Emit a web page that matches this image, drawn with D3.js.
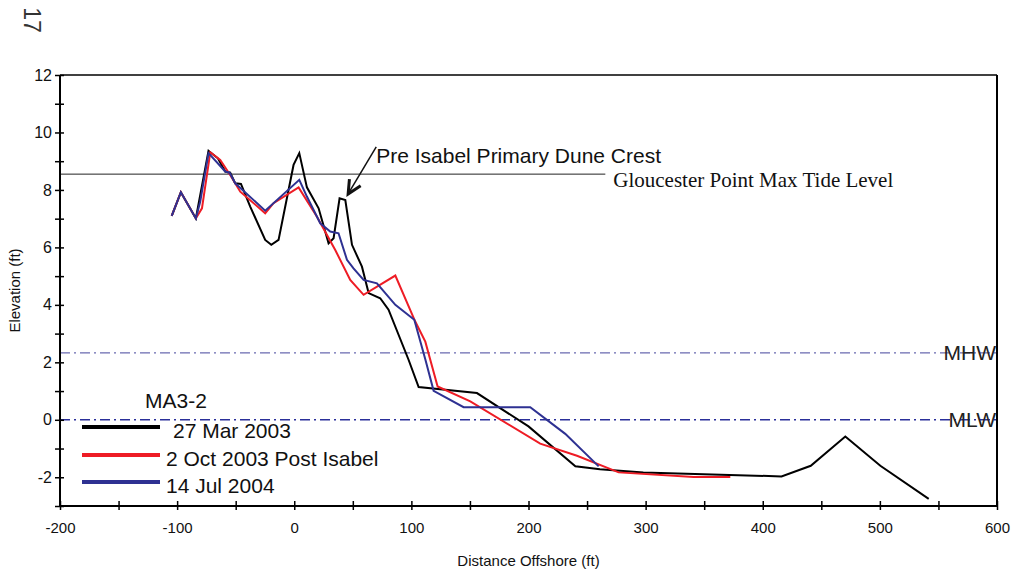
<!DOCTYPE html>
<html><head><meta charset="utf-8">
<script src="https://cdn.jsdelivr.net/npm/d3@7/dist/d3.min.js"></script>
<style>body{margin:0;background:#fff}svg{display:block}</style>
</head><body>
<script>
const seriesNames = ["27 Mar 2003", "2 Oct 2003 Post Isabel", "14 Jul 2004"];
const seriesColors = ["#000000", "#ee1c25", "#2e3192"];
const mar2003X = [-104.6,-96.8,-84,-73.2,-65.2,-58.9,-54.7,-50.4,-45.5,-37.6,-24.8,-19.6,-13.4,-0.6,4.3,10.8,20.8,29.3,33.6,38.7,43.6,49.3,57.8,63.5,73.4,80.5,97.6,106.2,156,200,240,261,298,416,441,470.5,500.4,541.7];
const mar2003Y = [7.1,7.92,7.01,9.36,9.1,8.64,8.6,8.23,8.21,7.42,6.26,6.09,6.26,8.87,9.28,8.09,7.36,6.14,6.32,7.71,7.65,6.09,5.33,4.41,4.23,3.83,2.09,1.14,0.93,-0.23,-1.62,-1.72,-1.83,-1.97,-1.6,-0.58,-1.6,-2.75];
const oct2003X = [-104.6,-96.8,-84,-78.8,-71.7,-63.2,-54.7,-46.1,-24.8,-17.7,3.7,19.4,35,47.8,59.2,86.3,103.3,111.9,122.4,150.3,210,241.4,277,341,372.3];
const oct2003Y = [7.1,7.92,7.01,7.36,9.31,9.04,8.52,7.94,7.19,7.54,8.09,7.07,5.91,4.87,4.35,5.02,3.42,2.72,1.16,0.64,-0.83,-1.25,-1.83,-1.99,-1.99];
const jul2004X = [-104.6,-96.8,-84,-80.3,-73.2,-58.9,-55.2,-50.4,-24.8,4.3,10.8,22.2,30.7,37.8,45,50.6,59.2,70.6,86.3,102.5,112,119,144.6,201.5,231.4,259.9];
const jul2004Y = [7.1,7.92,7.01,7.59,9.28,8.64,8.6,8.23,7.28,8.35,7.77,6.84,6.55,6.49,5.57,5.27,4.87,4.75,4.0,3.48,2.09,1.01,0.44,0.44,-0.49,-1.62];
const xTickLabels = [-200,-100,0,100,200,300,400,500,600];
const yTickLabels = [-2,0,2,4,6,8,10,12];
const maxTide = 8.55, mhw = 2.33, mlw = 0;
const tideLabel = "Gloucester Point Max Tide Level";
const duneLabel = "Pre Isabel Primary Dune Crest";
const duneArrowTip = [46, 7.86], duneTextAt = [70, 9.05];
const stationName = "MA3-2";

const W = 1014, H = 573;
const svg = d3.select("body").append("svg").attr("width", W).attr("height", H);
const x = d3.scaleLinear().domain([-200, 600]).range([60, 997]);
const y = d3.scaleLinear().domain([-3, 12]).range([506, 75]);
const sans = "'Liberation Sans', Arial, sans-serif";

// frame
svg.append("line").attr("x1", x(-200)).attr("x2", x(600)).attr("y1", y(12)).attr("y2", y(12)).attr("stroke", "#000").attr("stroke-width", 1.5);
svg.append("line").attr("x1", x(600)).attr("x2", x(600)).attr("y1", y(12)).attr("y2", y(-3)).attr("stroke", "#000").attr("stroke-width", 2);

// reference lines
svg.append("line").attr("x1", x(-200)).attr("x2", x(265.6)).attr("y1", y(maxTide)).attr("y2", y(maxTide)).attr("stroke", "#222").attr("stroke-width", 1);
svg.append("line").attr("x1", x(-200)).attr("x2", x(600)).attr("y1", y(mhw)).attr("y2", y(mhw)).attr("stroke", "#6a6ab0").attr("stroke-width", 1.2).attr("stroke-dasharray", "10,4,2,4");
svg.append("line").attr("x1", x(-200)).attr("x2", x(600)).attr("y1", y(mlw)).attr("y2", y(mlw)).attr("stroke", "#2a2f9a").attr("stroke-width", 1.4).attr("stroke-dasharray", "10,4,2,4");
svg.append("text").attr("x", x(600) - 1).attr("y", y(mhw)).attr("dy", "0.36em").attr("text-anchor", "end").attr("font-family", sans).attr("font-size", 21).attr("fill", "#222").text("MHW");
svg.append("text").attr("x", x(600) - 1).attr("y", y(mlw)).attr("dy", "0.36em").attr("text-anchor", "end").attr("font-family", sans).attr("font-size", 21).attr("fill", "#222").text("MLW");
svg.append("text").attr("x", x(272.4)).attr("y", y(maxTide) + 13).attr("font-family", "'Liberation Serif', 'Times New Roman', serif").attr("font-size", 21).attr("fill", "#111").text(tideLabel);

// axes
const yAxis = d3.axisLeft(y).tickValues(d3.range(-3, 13, 1)).tickSize(5).tickFormat(d => yTickLabels.includes(d) ? d : "");
const gy = svg.append("g").attr("transform", `translate(${x(-200)},0)`).call(yAxis);
gy.select(".domain").attr("stroke-width", 2).attr("d", `M0,${y(-3)}V${y(12)}`);
gy.selectAll(".tick line").attr("x1", 4).attr("x2", -5).attr("stroke-width", 1.5);
gy.selectAll(".tick text").attr("x", -8).attr("font-family", sans).attr("font-size", 16).attr("fill", "#111");
const xAxis = d3.axisBottom(x).tickValues(d3.range(-200, 601, 50)).tickSize(5).tickFormat(d => xTickLabels.includes(d) ? d : "");
const gx = svg.append("g").attr("transform", `translate(0,${y(-3)})`).call(xAxis);
gx.select(".domain").attr("stroke-width", 2).attr("d", `M${x(-200)},0H${x(600)}`);
gx.selectAll(".tick line").attr("y1", -5).attr("y2", 4).attr("stroke-width", 1.5);
gx.selectAll(".tick text").attr("y", 16).attr("font-family", sans).attr("font-size", 15).attr("fill", "#111");

svg.append("text").attr("transform", `translate(20,${(y(12) + y(-3)) / 2}) rotate(-90)`).attr("text-anchor", "middle").attr("font-family", sans).attr("font-size", 15).attr("fill", "#111").text("Elevation (ft)");
svg.append("text").attr("x", (x(-200) + x(600)) / 2).attr("y", 566).attr("text-anchor", "middle").attr("font-family", sans).attr("font-size", 15).attr("fill", "#111").text("Distance Offshore (ft)");

// page number
svg.append("text").attr("transform", "translate(32,20) rotate(90)").attr("text-anchor", "middle").attr("dy", "0.35em").attr("font-family", sans).attr("font-size", 23).attr("fill", "#333").text("17");

// data lines
const line = d3.line().x(d => x(d[0])).y(d => y(d[1]));
const series = [d3.zip(mar2003X, mar2003Y), d3.zip(oct2003X, oct2003Y), d3.zip(jul2004X, jul2004Y)];
[0, 1, 2].forEach(i => {
  svg.append("path").datum(series[i]).attr("d", line).attr("fill", "none").attr("stroke", seriesColors[i]).attr("stroke-width", 2).attr("stroke-linejoin", "miter");
});

// annotation
const tx = x(duneTextAt[0]), ty = y(duneTextAt[1]);
const ax = x(duneArrowTip[0]), ay = y(duneArrowTip[1]);
svg.append("line").attr("x1", tx).attr("y1", ty - 13).attr("x2", ax).attr("y2", ay).attr("stroke", "#111").attr("stroke-width", 1.5);
const ang = Math.atan2(ay - (ty - 13), ax - tx);
const hl = 15, spread = 0.45;
svg.append("path").attr("d", `M${ax - hl * Math.cos(ang - spread)},${ay - hl * Math.sin(ang - spread)}L${ax},${ay}L${ax - hl * Math.cos(ang + spread)},${ay - hl * Math.sin(ang + spread)}`).attr("fill", "none").attr("stroke", "#111").attr("stroke-width", 3);
svg.append("text").attr("x", tx).attr("y", ty + 3).attr("font-family", sans).attr("font-size", 21).attr("fill", "#111").text(duneLabel);

// legend
svg.append("text").attr("x", 145).attr("y", 408).attr("font-family", sans).attr("font-size", 21).attr("fill", "#111").text(stationName);
const legY = [427, 455, 482], legTX = [173, 166, 166];
seriesNames.forEach((n, i) => {
  svg.append("line").attr("x1", 82).attr("x2", 160).attr("y1", legY[i]).attr("y2", legY[i]).attr("stroke", seriesColors[i]).attr("stroke-width", 4);
  svg.append("text").attr("x", legTX[i]).attr("y", legY[i] + 3).attr("dy", "0.36em").attr("font-family", sans).attr("font-size", 21).attr("fill", "#111").text(n);
});
</script>
</body></html>
